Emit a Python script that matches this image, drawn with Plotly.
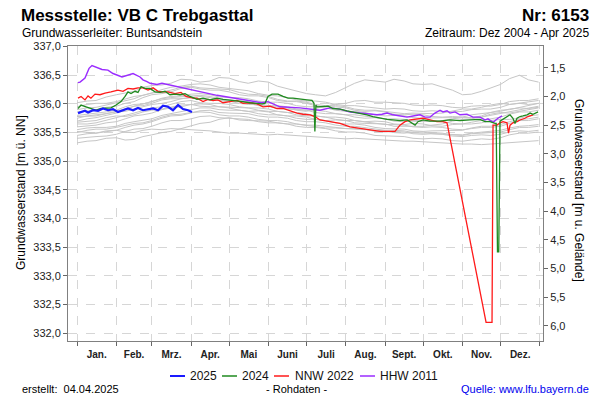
import plotly.graph_objects as go

# ---------------- data ----------------
month_starts = [0, 31, 59, 90, 120, 151, 181, 212, 243, 273, 304, 334, 365]
month_labels = ["Jan.", "Feb.", "Mrz.", "Apr.", "Mai", "Juni", "Juli", "Aug.", "Sept.", "Okt.", "Nov.", "Dez."]
left_ticks = [332.0, 332.5, 333.0, 333.5, 334.0, 334.5, 335.0, 335.5, 336.0, 336.5, 337.0]
right_ticks = [1.5, 2.0, 2.5, 3.0, 3.5, 4.0, 4.5, 5.0, 5.5, 6.0]
gelaende = 338.13  # ground level [m ü. NN]

gray_days = [0, 8, 15, 23, 31, 38, 45, 52, 59, 67, 74, 82, 90, 97, 105, 112, 120, 128, 135, 143, 151, 158, 166, 173, 181, 188, 196, 204, 212, 219, 227, 235, 243, 250, 258, 265, 273, 280, 288, 296, 304, 311, 319, 326, 334, 341, 349, 356, 364]
gray_years = {
    "2005": [336.02,336.05,336.06,336.12,336.16,336.19,336.22,336.29,336.32,336.33,336.36,336.43,336.42,336.38,336.40,336.46,336.45,336.39,336.36,336.40,336.38,336.31,336.26,336.22,336.18,336.16,336.14,336.20,336.28,336.36,336.42,336.40,336.38,336.43,336.40,336.35,336.34,336.35,336.30,336.24,336.16,336.17,336.22,336.27,336.34,336.44,336.50,336.42,336.38],
    "2006": [335.32,335.35,335.36,335.40,335.41,335.37,335.38,335.43,335.46,335.50,335.52,335.57,335.61,335.66,335.68,335.73,335.76,335.72,335.71,335.71,335.70,335.67,335.65,335.65,335.63,335.60,335.58,335.58,335.57,335.55,335.54,335.54,335.53,335.50,335.49,335.51,335.51,335.48,335.47,335.47,335.46,335.49,335.51,335.52,335.54,335.58,335.61,335.62,335.64],
    "2007": [335.52,335.50,335.49,335.53,335.54,335.51,335.50,335.54,335.56,335.55,335.57,335.56,335.55,335.55,335.53,335.51,335.49,335.49,335.48,335.47,335.46,335.47,335.46,335.44,335.43,335.43,335.42,335.40,335.39,335.40,335.39,335.37,335.36,335.36,335.35,335.35,335.34,335.32,335.31,335.31,335.30,335.30,335.29,335.30,335.31,335.32,335.33,335.35,335.36],
    "2008": [335.70,335.74,335.76,335.80,335.84,335.90,335.96,336.00,336.04,336.09,336.11,336.12,336.14,336.15,336.13,336.09,336.07,336.06,336.04,336.00,335.97,335.97,335.95,335.91,335.89,335.89,335.87,335.83,335.81,335.81,335.79,335.76,335.74,335.74,335.73,335.70,335.69,335.70,335.69,335.66,335.65,335.68,335.71,335.74,335.77,335.82,335.86,335.86,335.89],
    "2009": [335.86,335.87,335.89,335.94,335.96,336.01,336.04,336.11,336.16,336.18,336.21,336.27,336.29,336.26,336.24,336.24,336.21,336.16,336.14,336.14,336.11,336.06,336.04,336.04,336.01,335.97,335.95,335.95,335.93,335.89,335.87,335.88,335.86,335.82,335.81,335.82,335.81,335.78,335.77,335.78,335.77,335.76,335.77,335.80,335.83,335.86,335.89,335.93,335.96],
    "2010": [335.60,335.62,335.63,335.67,335.69,335.74,335.79,335.81,335.84,335.90,335.93,335.95,335.99,336.00,335.99,335.95,335.94,335.94,335.93,335.89,335.87,335.87,335.85,335.81,335.79,335.79,335.77,335.73,335.71,335.71,335.69,335.66,335.64,335.64,335.63,335.60,335.59,335.60,335.59,335.56,335.55,335.57,335.59,335.59,335.61,335.66,335.71,335.71,335.74],
    "2012": [335.45,335.48,335.49,335.52,335.54,335.59,335.63,335.65,335.69,335.75,335.79,335.80,335.84,335.88,335.89,335.85,335.84,335.84,335.83,335.79,335.77,335.77,335.75,335.71,335.69,335.69,335.67,335.63,335.61,335.61,335.59,335.56,335.54,335.54,335.53,335.50,335.49,335.50,335.49,335.46,335.45,335.48,335.49,335.49,335.51,335.55,335.59,335.59,335.61],
    "2013": [335.75,335.79,335.81,335.83,335.87,335.92,335.96,335.97,336.01,336.07,336.09,336.09,336.11,336.13,336.11,336.06,336.04,336.04,336.01,335.97,335.95,335.95,335.93,335.89,335.87,335.92,335.96,336.00,336.01,336.05,336.06,336.03,336.03,336.02,336.01,335.98,335.97,335.98,335.97,335.94,335.93,335.96,335.97,335.96,335.99,336.04,336.06,336.06,336.09],
    "2014": [335.90,335.93,335.94,335.98,336.01,336.05,336.09,336.15,336.19,336.21,336.24,336.29,336.31,336.28,336.27,336.27,336.25,336.20,336.17,336.16,336.13,336.08,336.05,336.05,336.03,335.99,335.97,335.97,335.95,335.91,335.89,335.89,335.87,335.84,335.83,335.84,335.83,335.83,335.84,335.88,335.91,335.91,335.94,335.98,336.01,335.99,336.01,336.04,336.06],
    "2015": [335.55,335.58,335.59,335.59,335.61,335.66,335.69,335.71,335.74,335.80,335.83,335.86,335.89,335.93,335.93,335.90,335.89,335.89,335.87,335.83,335.81,335.81,335.79,335.75,335.73,335.73,335.71,335.67,335.65,335.65,335.63,335.59,335.57,335.57,335.56,335.53,335.52,335.53,335.53,335.53,335.54,335.58,335.61,335.61,335.64,335.69,335.73,335.74,335.77],
    "2016": [335.65,335.65,335.67,335.72,335.76,335.80,335.84,335.88,335.93,335.95,335.99,336.04,336.06,336.02,336.01,336.01,335.99,335.95,335.93,335.93,335.91,335.87,335.85,335.85,335.83,335.79,335.77,335.77,335.75,335.71,335.69,335.70,335.69,335.65,335.64,335.66,335.65,335.62,335.61,335.64,335.65,335.65,335.67,335.71,335.73,335.73,335.75,335.79,335.81],
    "2017": [335.80,335.82,335.83,335.86,335.89,335.95,335.99,336.00,336.04,336.10,336.13,336.14,336.17,336.18,336.16,336.12,336.11,336.11,336.09,336.05,336.03,336.03,336.01,335.97,335.95,335.95,335.93,335.89,335.87,335.87,335.85,335.81,335.79,335.80,335.79,335.76,335.75,335.76,335.76,335.76,335.77,335.81,335.83,335.84,335.87,335.91,335.93,335.92,335.94],
    "2018": [335.40,335.42,335.43,335.44,335.47,335.52,335.56,335.57,335.61,335.67,335.71,335.71,335.74,335.78,335.79,335.76,335.75,335.75,335.73,335.69,335.67,335.67,335.65,335.61,335.59,335.59,335.57,335.53,335.51,335.51,335.49,335.45,335.44,335.44,335.43,335.40,335.39,335.40,335.39,335.36,335.35,335.37,335.39,335.38,335.41,335.46,335.49,335.49,335.51],
    "2019": [335.95,335.99,336.01,336.01,336.04,336.09,336.13,336.15,336.19,336.25,336.29,336.31,336.34,336.35,336.33,336.29,336.27,336.26,336.23,336.18,336.15,336.14,336.11,336.07,336.05,336.05,336.03,335.99,335.97,335.97,335.95,335.92,335.91,335.92,335.91,335.88,335.87,335.88,335.87,335.86,335.87,335.90,335.91,335.91,335.94,335.99,336.01,335.99,336.01],
    "2020": [335.68,335.69,335.71,335.76,335.79,335.78,335.81,335.86,335.89,335.91,335.94,335.98,335.99,335.96,335.95,335.95,335.93,335.89,335.87,335.88,335.86,335.81,335.79,335.79,335.77,335.73,335.71,335.72,335.71,335.67,335.66,335.66,335.65,335.61,335.61,335.62,335.61,335.63,335.65,335.70,335.73,335.74,335.77,335.82,335.85,335.84,335.87,335.90,335.93],
    "2021": [335.50,335.54,335.56,335.56,335.59,335.63,335.66,335.67,335.71,335.77,335.81,335.82,335.85,335.86,335.85,335.81,335.79,335.79,335.77,335.73,335.71,335.71,335.69,335.65,335.63,335.63,335.61,335.58,335.57,335.57,335.56,335.52,335.51,335.52,335.51,335.48,335.47,335.48,335.47,335.44,335.43,335.45,335.46,335.45,335.47,335.51,335.53,335.52,335.54],
    "2023": [335.78,335.78,335.79,335.83,335.86,335.87,335.91,335.95,335.99,336.01,336.04,336.09,336.11,336.08,336.07,336.07,336.05,336.01,335.99,335.99,335.96,335.92,335.91,335.91,335.89,335.85,335.83,335.83,335.81,335.77,335.75,335.76,335.74,335.70,335.69,335.71,335.71,335.70,335.71,335.74,335.76,335.76,335.79,335.85,335.89,335.90,335.94,335.97,336.01],
}

days_2025 = [0.8, 3.2, 6.3, 8.7, 12.6, 16.6, 20.5, 24.4, 28.4, 32.3, 36.3, 40.2, 44.2, 48.1, 52.0, 56.0, 60.0, 63.9, 67.8, 71.8, 75.7, 79.7, 83.6, 87.5, 90.7]
vals_2025 = [335.84, 335.86, 335.88, 335.85, 335.89, 335.88, 335.92, 335.89, 335.91, 335.86, 335.89, 335.92, 335.89, 335.93, 335.89, 335.91, 335.92, 335.89, 335.97, 335.95, 335.89, 335.98, 335.91, 335.89, 335.86]

days_2024 = [0.8, 3.2, 7.1, 11.0, 15.0, 18.9, 22.9, 26.8, 30.8, 34.7, 37.9, 40.2, 42.6, 45.7, 48.1, 50.5, 53.6, 57.6, 61.5, 65.5, 69.4, 73.3, 77.3, 81.2, 85.2, 89.1, 94.6, 99.4, 104.9, 110.4, 115.1, 120.7, 126.2, 130.9, 136.4, 142.0, 145.9, 148.3, 150.6, 153.8, 158.5, 162.5, 166.4, 170.3, 175.9, 181.4, 185.3, 186.9, 187.6, 188.4, 189.3, 194.0, 198.0, 201.9, 207.4, 212.9, 217.7, 223.2, 228.7, 233.4, 239.0, 244.5, 249.2, 254.7, 260.3, 264.2, 266.6, 268.9, 272.9, 278.4, 286.3, 294.2, 302.0, 309.9, 317.8, 321.8, 325.7, 329.7, 330.6, 331.6, 332.6, 333.6, 335.2, 337.5, 339.9, 341.5, 343.8, 345.4, 347.0, 349.4, 351.7, 354.9, 357.3, 359.6, 363.6]
vals_2024 = [335.92, 335.98, 335.95, 335.92, 335.89, 335.92, 335.92, 335.93, 335.98, 336.04, 336.13, 336.21, 336.18, 336.22, 336.20, 336.30, 336.27, 336.27, 336.21, 336.20, 336.22, 336.16, 336.17, 336.16, 336.18, 336.13, 336.08, 336.10, 336.07, 336.10, 336.08, 336.07, 336.06, 336.04, 336.02, 336.01, 336.00, 336.01, 336.13, 336.17, 336.17, 336.13, 336.10, 336.10, 336.08, 336.07, 336.06, 336.01, 335.52, 335.98, 335.95, 335.96, 335.96, 335.92, 335.91, 335.88, 335.86, 335.84, 335.81, 335.78, 335.75, 335.73, 335.72, 335.71, 335.72, 335.67, 335.63, 335.69, 335.72, 335.70, 335.70, 335.72, 335.71, 335.72, 335.73, 335.69, 335.69, 335.66, 335.66, 333.42, 333.42, 335.70, 335.72, 335.75, 335.78, 335.81, 335.75, 335.66, 335.75, 335.78, 335.79, 335.81, 335.84, 335.82, 335.86]

days_nnw = [0.8, 3.2, 6.3, 8.7, 11.0, 14.2, 18.1, 22.1, 26.8, 32.3, 36.3, 40.2, 44.2, 48.1, 52.0, 56.0, 60.0, 63.9, 67.8, 71.8, 77.3, 82.0, 86.0, 91.5, 94.6, 99.4, 103.3, 107.3, 111.2, 115.1, 120.7, 126.2, 130.9, 136.4, 142.0, 146.7, 152.2, 157.7, 162.5, 168.0, 173.5, 178.2, 183.8, 187.7, 191.6, 199.5, 207.4, 215.3, 223.2, 231.1, 239.0, 246.8, 250.8, 254.7, 258.7, 262.6, 268.1, 272.9, 278.4, 283.9, 288.6, 291.8, 322.6, 327.3, 328.1, 331.2, 333.6, 336.0, 339.1, 340.3, 341.5, 343.8, 347.0, 349.4, 353.3, 355.7, 359.6]
vals_nnw = [336.10, 336.13, 336.07, 336.14, 336.10, 336.17, 336.16, 336.19, 336.21, 336.24, 336.22, 336.27, 336.26, 336.28, 336.28, 336.24, 336.28, 336.22, 336.21, 336.21, 336.18, 336.20, 336.13, 336.10, 336.10, 336.04, 336.08, 336.06, 336.07, 336.02, 336.04, 336.06, 336.01, 336.02, 336.00, 335.95, 335.96, 335.92, 335.92, 335.88, 335.84, 335.82, 335.81, 335.78, 335.72, 335.69, 335.66, 335.60, 335.57, 335.55, 335.52, 335.52, 335.52, 335.63, 335.69, 335.72, 335.73, 335.75, 335.72, 335.69, 335.69, 335.67, 332.19, 332.19, 335.63, 335.63, 335.67, 335.69, 335.67, 335.49, 335.63, 335.67, 335.69, 335.72, 335.75, 335.78, 335.81]

days_hhw = [0.8, 2.4, 6.3, 9.5, 11.8, 15.8, 19.7, 24.4, 28.4, 35.5, 40.2, 44.2, 49.7, 52.0, 55.2, 57.6, 63.1, 67.0, 110.4, 141.2, 145.9, 150.6, 160.0, 175.9, 183.8, 191.6, 199.5, 207.4, 215.3, 223.2, 229.5, 236.6, 240.5, 244.5, 249.2, 254.7, 260.3, 265.0, 270.5, 274.4, 278.4, 282.3, 286.3, 288.6, 291.8, 294.2, 298.1, 302.0, 307.5, 312.3, 317.8, 321.8, 324.1, 328.1, 332.0, 335.2]
vals_hhw = [336.37, 336.38, 336.45, 336.62, 336.67, 336.64, 336.60, 336.59, 336.53, 336.47, 336.50, 336.53, 336.47, 336.42, 336.39, 336.36, 336.34, 336.36, 336.15, 336.04, 336.02, 336.04, 335.95, 335.93, 335.91, 335.89, 335.93, 335.91, 335.86, 335.84, 335.82, 335.81, 335.82, 335.84, 335.81, 335.79, 335.77, 335.79, 335.81, 335.77, 335.77, 335.84, 335.89, 335.86, 335.88, 335.84, 335.86, 335.81, 335.82, 335.77, 335.77, 335.72, 335.74, 335.68, 335.75, 335.79]

# ---------------- geometry helpers ----------------
W, H = 600, 400
ML, MR, MT, MB = 68, 57, 46, 59
PW, PH = W - ML - MR, H - MT - MB
Y_LO, Y_HI = 331.865, 337.01
X_LO, X_HI = -7.1, 367.5


def px(xp):
    return (xp - ML) / PW


def py(yp):
    return (H - MB - yp) / PH


FONT = "Liberation Sans, Arial, sans-serif"
fig = go.Figure()

for yr, vals in gray_years.items():
    fig.add_trace(go.Scatter(x=gray_days, y=vals, mode="lines", name=yr,
                             line=dict(color="#c6c6c6", width=1), showlegend=False,
                             hoverinfo="skip"))

highlight = [
    # name, days, values, colour, width, legend sample x (px), label x (px)
    ("HHW 2011", days_hhw, vals_hhw, "#9a2cff", 1.4, 360, 378),
    ("NNW 2022", days_nnw, vals_nnw, "#ff1a1a", 1.3, 274, 293),
    ("2024", days_2024, vals_2024, "#1f8a1f", 1.3, 222, 240),
    ("2025", days_2025, vals_2025, "#1a1aff", 2.2, 170, 188),
]

shapes = []
ann = []
for name, dd, vv, col, lw, sx, tx in highlight:
    fig.add_trace(go.Scatter(x=dd, y=vv, mode="lines", name=name,
                             line=dict(color=col, width=lw), showlegend=False))
    # legend entry (drawn manually to match the compact original legend)
    shapes.append(dict(type="line", xref="paper", yref="paper",
                       x0=px(sx), x1=px(sx + 15), y0=py(376), y1=py(376),
                       line=dict(color=col, width=2 if name == "2025" else 1.5)))
    ann.append(dict(text=name, x=px(tx), y=py(376), xanchor="left",
                    yanchor="middle", font=dict(size=12, color="#111")))

# invisible helper trace for the secondary axes
fig.add_trace(go.Scatter(x=[X_LO], y=[gelaende - Y_LO], xaxis="x2", yaxis="y2",
                         mode="markers", marker=dict(opacity=0), showlegend=False,
                         hoverinfo="skip"))

month_mid = [(month_starts[i] + month_starts[i + 1]) / 2 for i in range(12)]

fig.update_layout(
    width=W, height=H,
    margin=dict(l=ML, r=MR, t=MT, b=MB, autoexpand=False),
    paper_bgcolor="white", plot_bgcolor="white",
    separators=",.",
    showlegend=False,
    font=dict(family=FONT, size=11, color="#222"),
    xaxis=dict(range=[X_LO, X_HI], tickmode="array", tickvals=month_starts,
               ticktext=[""] * len(month_starts), ticks="outside", ticklen=4,
               tickcolor="#666", showgrid=True, gridcolor="#d6d6d6",
               griddash="dash", gridwidth=1, showline=True, linecolor="#808080",
               mirror=True, zeroline=False, automargin=False),
    xaxis2=dict(range=[X_LO, X_HI], overlaying="x", side="bottom", anchor="y",
                tickmode="array", tickvals=month_mid, ticktext=month_labels,
                ticks="", showgrid=False, showline=False, zeroline=False,
                tickfont=dict(size=10, family=FONT, color="#222", weight="bold"),
                ticklabelstandoff=6, automargin=False),
    yaxis=dict(range=[Y_LO, Y_HI], tickmode="array", tickvals=left_ticks,
               tickformat=".1f", ticks="outside", ticklen=4, tickcolor="#666",
               showgrid=True, gridcolor="#d6d6d6", griddash="dash",
               showline=True, linecolor="#808080", mirror=True, zeroline=False,
               tickfont=dict(size=11, color="#222"), automargin=False),
    yaxis2=dict(range=[gelaende - Y_LO, gelaende - Y_HI], overlaying="y",
                side="right", anchor="x", tickmode="array", tickvals=right_ticks,
                tickformat=".1f", ticks="outside", ticklen=4, tickcolor="#666",
                showgrid=False, showline=False, zeroline=False,
                tickfont=dict(size=11, color="#222"), automargin=False),
)

ann += [
    dict(text="<b>Messstelle: VB C Trebgasttal</b>", x=px(19), y=py(15),
         xanchor="left", yanchor="middle", font=dict(size=17, color="#000")),
    dict(text="<b>Nr: 6153</b>", x=px(591), y=py(15), xanchor="right",
         yanchor="middle", font=dict(size=17, color="#000")),
    dict(text="Grundwasserleiter: Buntsandstein", x=px(20), y=py(33),
         xanchor="left", yanchor="middle", font=dict(size=12, color="#000")),
    dict(text="Zeitraum: Dez 2004 - Apr 2025", x=px(591), y=py(33),
         xanchor="right", yanchor="middle", font=dict(size=12, color="#000")),
    dict(text="Grundwasserstand [m ü. NN]", x=px(21), y=py(193), textangle=-90,
         xanchor="center", yanchor="middle", font=dict(size=12, color="#000")),
    dict(text="Grundwasserstand [m u. Gelände]", x=px(579), y=py(190), textangle=90,
         xanchor="center", yanchor="middle", font=dict(size=12, color="#000")),
    dict(text="erstellt:  04.04.2025", x=px(20), y=py(389), xanchor="left",
         yanchor="middle", font=dict(size=11, color="#000")),
    dict(text="- Rohdaten -", x=px(296), y=py(389), xanchor="center",
         yanchor="middle", font=dict(size=11, color="#000")),
    dict(text="Quelle: www.lfu.bayern.de", x=px(591), y=py(389), xanchor="right",
         yanchor="middle", font=dict(size=11, color="#0000ee")),
]
for a in ann:
    a.update(xref="paper", yref="paper", showarrow=False)
fig.update_layout(annotations=ann, shapes=shapes)

fig.write_html("out.html", config={"displayModeBar": False},
               post_script="document.body.style.margin='0';document.body.style.overflow='hidden';")
